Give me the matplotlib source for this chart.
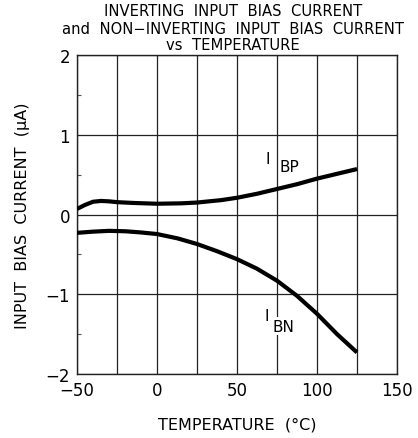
import matplotlib
matplotlib.use("Agg")
import matplotlib.pyplot as plt
from matplotlib.ticker import MultipleLocator

# data
temp_bp = [-50, -45, -40, -35, -30, -25, -15, 0, 15, 25, 40, 50, 62.5, 75, 87.5, 100, 112.5, 125]
ibp = [0.07, 0.12, 0.16, 0.17, 0.165, 0.155, 0.145, 0.135, 0.14, 0.15, 0.18, 0.21, 0.26, 0.32, 0.38, 0.45, 0.51, 0.57]

temp_bn = [-50, -40, -30, -20, -10, 0, 13, 25, 37.5, 50, 62.5, 75, 87.5, 100, 112.5, 125]
ibn = [-0.23, -0.215, -0.205, -0.21, -0.225, -0.245, -0.30, -0.37, -0.46, -0.56, -0.68, -0.83, -1.02, -1.245, -1.5, -1.73]

x_ticks = [-50, -25, 0, 25, 50, 75, 100, 125, 150]
x_labels = ["\u221250", "", "0", "", "50", "", "100", "", "150"]
y_ticks = [-2, -1, 0, 1, 2]
y_labels = ["\u22122", "\u22121", "0", "1", "2"]
title_lines = ["INVERTING  INPUT  BIAS  CURRENT",
               "and  NON\u2212INVERTING  INPUT  BIAS  CURRENT",
               "vs  TEMPERATURE"]

fig = plt.figure(figsize=(4.18, 4.39), dpi=100)
ax = fig.add_axes([0.1842, 0.1458, 0.7656, 0.7266])

ax.plot(temp_bp, ibp, color="black", lw=3, solid_capstyle="butt", zorder=3)
ax.plot(temp_bn, ibn, color="black", lw=3, solid_capstyle="butt", zorder=3)

ax.set_xlim(-50, 150)
ax.set_ylim(-2, 2)
ax.set_xticks(x_ticks)
ax.set_xticklabels(x_labels, fontsize=12)
ax.set_yticks(y_ticks)
ax.set_yticklabels(y_labels, fontsize=12)
ax.yaxis.set_minor_locator(MultipleLocator(0.5))
ax.tick_params(axis="x", which="major", length=0, pad=5)
ax.tick_params(axis="y", which="major", length=0, pad=5)
ax.tick_params(which="minor", direction="in", length=3, width=0.8, color="#555555")
ax.grid(True, which="major", color="#222222", lw=0.9)
for s in ax.spines.values():
    s.set_linewidth(1)
    s.set_color("#222222")

box = dict(facecolor="white", edgecolor="none", pad=1)
ax.text(69.4, 0.70, "I", fontsize=11, ha="center", va="center", bbox=box, zorder=2)
ax.text(83, 0.60, "BP", fontsize=11, ha="center", va="center", bbox=box, zorder=2)
ax.text(68.6, -1.27, "I", fontsize=11, ha="center", va="center", bbox=box, zorder=2)
ax.text(78.8, -1.40, "BN", fontsize=11, ha="center", va="center", bbox=box, zorder=2)

ax.set_xlabel("TEMPERATURE  (\u00b0C)", fontsize=11.5, labelpad=13)
ax.set_ylabel("INPUT  BIAS  CURRENT  (\u03bcA)", fontsize=11.5, labelpad=11)
for i, line in enumerate(title_lines):
    fig.text(233 / 418, 1 - (16.5 + 17 * i) / 439, line, fontsize=10.6,
             ha="center", va="baseline")

fig.savefig("out.png", dpi=100)
